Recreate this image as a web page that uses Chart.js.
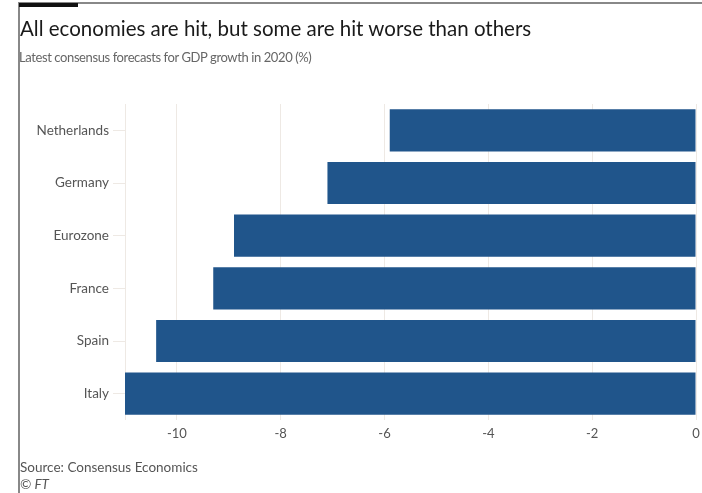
<!DOCTYPE html>
<html>
<head>
<meta charset="utf-8">
<script src="https://cdn.jsdelivr.net/npm/chart.js@4"></script>
<style>
  body { margin: 0; width: 702px; height: 493px; background: #fff; font-family: Lato, "Open Sans", sans-serif; position: relative; overflow: hidden; }
  #frameTop { position: absolute; left: 18px; top: 2px; width: 684px; height: 2px; background: #888; }
  #frameLeft { position: absolute; left: 18px; top: 2px; width: 2px; height: 491px; background: #888; }
  #marker { position: absolute; left: 19px; top: 3px; width: 59px; height: 4px; background: #111; }
  #title { position: absolute; left: 20px; top: 16px; font-size: 20.5px; color: #1a1a1a; white-space: nowrap; }
  #subtitle { position: absolute; left: 19px; top: 49px; font-size: 13px; letter-spacing: -0.4px; color: #666; white-space: nowrap; }
  #source { position: absolute; left: 20px; top: 459px; font-size: 13.5px; color: #555; line-height: 17px; }
  #chartBox { position: absolute; left: 0; top: 0; width: 702px; height: 493px; }
</style>
</head>
<body>
<div id="chartBox"><canvas id="gdp"></canvas></div>
<div id="frameTop"></div>
<div id="frameLeft"></div>
<div id="marker"></div>
<div id="title">All economies are hit, but some are hit worse than others</div>
<div id="subtitle">Latest consensus forecasts for GDP growth in 2020 (%)</div>
<div id="source">Source: Consensus Economics<br><i>© FT</i></div>
<script>
const countries = ['Netherlands', 'Germany', 'Eurozone', 'France', 'Spain', 'Italy'];
const growth2020 = [-5.9, -7.1, -8.9, -9.3, -10.4, -11.0];
const xTicks = [-10, -8, -6, -4, -2, 0];

const gridColor = '#eee9e4';

new Chart(document.getElementById('gdp').getContext('2d'), {
    type: 'bar',
    data: {
        labels: countries,
        datasets: [{
            label: 'GDP growth 2020 (%)',
            data: growth2020,
            backgroundColor: '#20558b',
            borderColor: '#20558b',
            borderWidth: 0,
            barPercentage: 0.8,
            categoryPercentage: 1
        }]
    },
    options: {
        indexAxis: 'y',
        responsive: true,
        maintainAspectRatio: false,
        animation: false,
        layout: { padding: { left: 0, top: 104, right: 6, bottom: 43 } },
        scales: {
            x: {
                min: -11,
                max: 0,
                afterBuildTicks: scale => {
                    scale.ticks = [{ value: -11 }].concat(xTicks.map(v => ({ value: v })));
                },
                // keep the plot running right up to the frame, like the original
                afterFit: scale => { scale.height = 30; scale.paddingRight = 0; },
                grid: { color: gridColor, drawTicks: false },
                border: { display: false },
                ticks: {
                    padding: 6,
                    color: '#555',
                    font: { family: 'Lato', size: 13 },
                    callback: v => v === -11 ? '' : v
                }
            },
            y: {
                afterFit: scale => { scale.width = 125; },
                grid: { drawOnChartArea: false, offset: false, color: gridColor, tickLength: 12 },
                border: { display: false },
                ticks: {
                    padding: 4,
                    color: '#555',
                    font: { family: 'Lato', size: 13.5 }
                }
            }
        },
        plugins: {
            legend: { display: false },
            tooltip: { enabled: false }
        }
    }
});
</script>
</body>
</html>
